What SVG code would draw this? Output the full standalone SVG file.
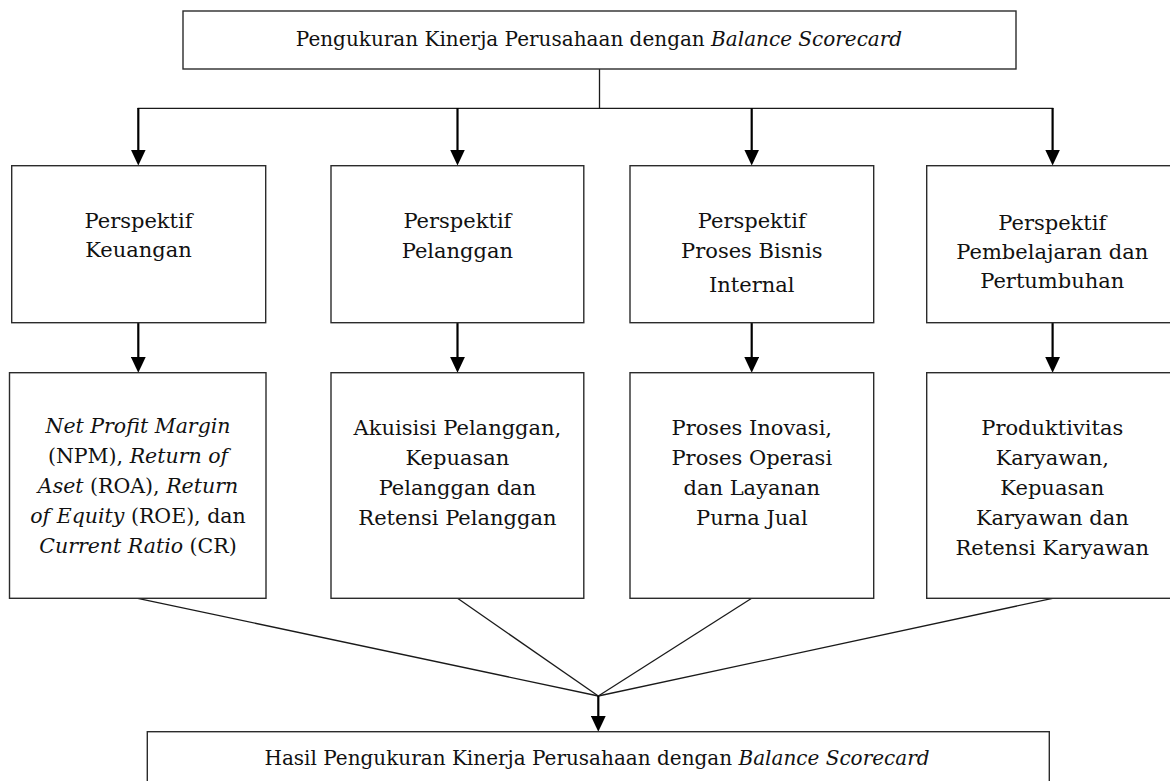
<svg xmlns="http://www.w3.org/2000/svg" width="1170" height="781" viewBox="0 0 1170 781">
<defs>
<style>
.box{fill:#fff;stroke:#2b2b2b;stroke-width:1.4}
.t{font-family:"DejaVu Serif","Liberation Serif",serif;font-size:20px;fill:#111;text-anchor:middle}
.b{font-size:21px}
.s{font-size:20.5px}
.i{font-style:italic}
.thin{stroke:#1a1a1a;stroke-width:1.3;fill:none}
.arr{stroke:#000;stroke-width:2.2;fill:none;marker-end:url(#ah)}
</style>
<marker id="ah" markerUnits="userSpaceOnUse" markerWidth="16" markerHeight="15" viewBox="0 0 16 15" refX="6" refY="7.5" orient="auto">
<path d="M0,0 L16,7.5 L0,15 z" fill="#000"/>
</marker>
</defs>
<rect width="1170" height="781" fill="#fff"/>

<g id="connectors">
<line class="thin" x1="599.5" y1="69" x2="599.5" y2="108.3"/>
<line class="thin" x1="137.6" y1="108.3" x2="1053.3" y2="108.3"/>
<line class="arr" x1="138.3" y1="108" x2="138.3" y2="155.5"/>
<line class="arr" x1="457.5" y1="108" x2="457.5" y2="155.5"/>
<line class="arr" x1="751.7" y1="108" x2="751.7" y2="155.5"/>
<line class="arr" x1="1052.6" y1="108" x2="1052.6" y2="155.5"/>
<line class="arr" x1="138.3" y1="322.7" x2="138.3" y2="362.8"/>
<line class="arr" x1="457.5" y1="322.7" x2="457.5" y2="362.8"/>
<line class="arr" x1="751.7" y1="322.7" x2="751.7" y2="362.8"/>
<line class="arr" x1="1052.6" y1="322.7" x2="1052.6" y2="362.8"/>
<line class="thin" x1="137.7" y1="598.3" x2="598.3" y2="696"/>
<line class="thin" x1="457.5" y1="598.3" x2="598.3" y2="696"/>
<line class="thin" x1="751.7" y1="598.3" x2="598.3" y2="696"/>
<line class="thin" x1="1052.6" y1="598.3" x2="598.3" y2="696"/>
<line class="arr" x1="598.3" y1="696" x2="598.3" y2="721.8"/>
</g>

<g id="top">
<rect class="box" x="183" y="11" width="833" height="58"/>
<text class="t" x="599" y="45.5">Pengukuran Kinerja Perusahaan dengan <tspan class="i">Balance Scorecard</tspan></text>
</g>

<g id="p-keuangan">
<rect class="box" x="11.7" y="165.7" width="254" height="157"/>
<text class="t b" x="138.5" y="228">Perspektif</text>
<text class="t b" x="138.5" y="257">Keuangan</text>
</g>
<g id="p-pelanggan">
<rect class="box" x="331" y="165.7" width="252.8" height="157"/>
<text class="t b" x="457.4" y="228">Perspektif</text>
<text class="t b" x="457.4" y="258">Pelanggan</text>
</g>
<g id="p-proses">
<rect class="box" x="630" y="165.7" width="243.7" height="157"/>
<text class="t b" x="751.8" y="228">Perspektif</text>
<text class="t b" x="751.8" y="257.5">Proses Bisnis</text>
<text class="t b" x="751.8" y="291.5">Internal</text>
</g>
<g id="p-pembelajaran">
<rect class="box" x="926.7" y="165.7" width="260" height="157"/>
<text class="t b" x="1052.3" y="229.5">Perspektif</text>
<text class="t b" x="1052.3" y="258.5">Pembelajaran dan</text>
<text class="t b" x="1052.3" y="288">Pertumbuhan</text>
</g>

<g id="m-keuangan">
<rect class="box" x="9.5" y="372.7" width="256.5" height="225.6"/>
<text class="t s" x="138" y="433"><tspan class="i">Net Profit Margin</tspan></text>
<text class="t s" x="138" y="462.5">(NPM), <tspan class="i">Return of</tspan></text>
<text class="t s" x="138" y="492.5"><tspan class="i">Aset</tspan> (ROA), <tspan class="i">Return</tspan></text>
<text class="t s" x="138" y="523"><tspan class="i">of Equity</tspan> (ROE), dan</text>
<text class="t s" x="138" y="553"><tspan class="i">Current Ratio</tspan> (CR)</text>
</g>
<g id="m-pelanggan">
<rect class="box" x="331" y="372.7" width="252.8" height="225.6"/>
<text class="t b" x="457.4" y="435">Akuisisi Pelanggan,</text>
<text class="t b" x="457.4" y="465">Kepuasan</text>
<text class="t b" x="457.4" y="495">Pelanggan dan</text>
<text class="t b" x="457.4" y="525">Retensi Pelanggan</text>
</g>
<g id="m-proses">
<rect class="box" x="630" y="372.7" width="243.7" height="225.6"/>
<text class="t b" x="751.8" y="435">Proses Inovasi,</text>
<text class="t b" x="751.8" y="465">Proses Operasi</text>
<text class="t b" x="751.8" y="495">dan Layanan</text>
<text class="t b" x="751.8" y="525">Purna Jual</text>
</g>
<g id="m-pembelajaran">
<rect class="box" x="926.7" y="372.7" width="260" height="225.6"/>
<text class="t b" x="1052.3" y="435">Produktivitas</text>
<text class="t b" x="1052.3" y="465">Karyawan,</text>
<text class="t b" x="1052.3" y="495">Kepuasan</text>
<text class="t b" x="1052.3" y="525">Karyawan dan</text>
<text class="t b" x="1052.3" y="555">Retensi Karyawan</text>
</g>

<g id="hasil">
<rect class="box" x="147.3" y="731.7" width="902" height="80"/>
<text class="t" x="597" y="765">Hasil Pengukuran Kinerja Perusahaan dengan <tspan class="i">Balance Scorecard</tspan></text>
</g>
</svg>
